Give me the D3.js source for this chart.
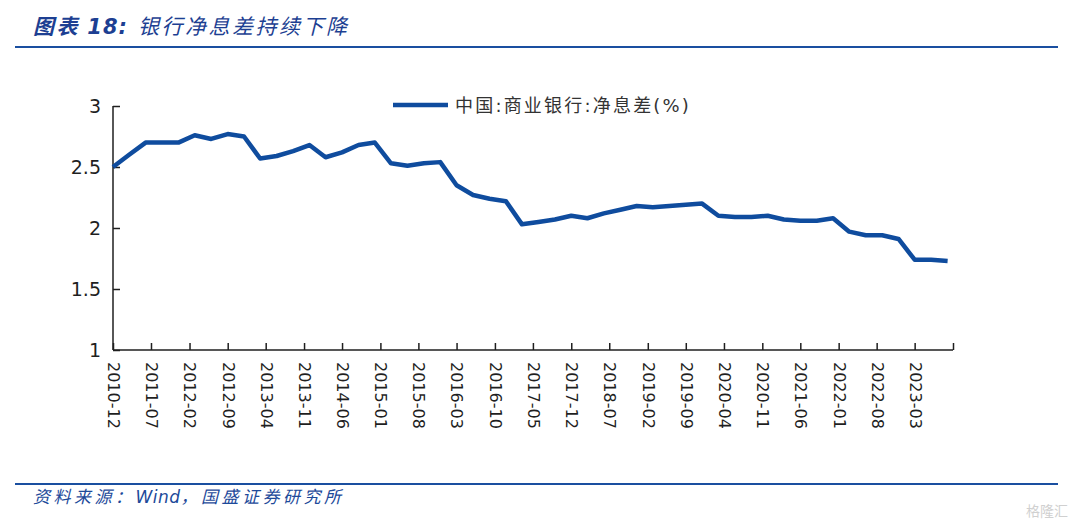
<!DOCTYPE html>
<html>
<head>
<meta charset="utf-8">
<script src="https://cdn.jsdelivr.net/npm/d3@7"></script>
<style>
  body { margin: 0; background: #fff; }
  svg { display: block; }
</style>
</head>
<body>
<svg width="1080" height="524"></svg>
<script>
// quarterly net interest margin of commercial banks (%)
var quarters = [
  "2010-12","2011-03","2011-06","2011-09","2011-12","2012-03","2012-06","2012-09","2012-12",
  "2013-03","2013-06","2013-09","2013-12","2014-03","2014-06","2014-09","2014-12",
  "2015-03","2015-06","2015-09","2015-12","2016-03","2016-06","2016-09","2016-12",
  "2017-03","2017-06","2017-09","2017-12","2018-03","2018-06","2018-09","2018-12",
  "2019-03","2019-06","2019-09","2019-12","2020-03","2020-06","2020-09","2020-12",
  "2021-03","2021-06","2021-09","2021-12","2022-03","2022-06","2022-09","2022-12",
  "2023-03","2023-06","2023-09"
];
var nim = [
  2.50, 2.60, 2.70, 2.70, 2.70, 2.76, 2.73, 2.77, 2.75,
  2.57, 2.59, 2.63, 2.68, 2.58, 2.62, 2.68, 2.70,
  2.53, 2.51, 2.53, 2.54, 2.35, 2.27, 2.24, 2.22,
  2.03, 2.05, 2.07, 2.10, 2.08, 2.12, 2.15, 2.18,
  2.17, 2.18, 2.19, 2.20, 2.10, 2.09, 2.09, 2.10,
  2.07, 2.06, 2.06, 2.08, 1.97, 1.94, 1.94, 1.91,
  1.74, 1.74, 1.73
];
var xTickLabels = [
  "2010-12","2011-07","2012-02","2012-09","2013-04","2013-11","2014-06","2015-01",
  "2015-08","2016-03","2016-10","2017-05","2017-12","2018-07","2019-02","2019-09",
  "2020-04","2020-11","2021-06","2022-01","2022-08","2023-03"
];
var axisEnd = "2023-10";
var yTicks = [1, 1.5, 2, 2.5, 3];
var seriesName = "中国:商业银行:净息差(%)";

var parse = d3.timeParse("%Y-%m");
var svg = d3.select("svg");
var blue = "#0f4c9e";
var dark = "#1f1f1f";

// title + rules
var title = svg.append("text")
    .attr("x", 33).attr("y", 34)
    .attr("fill", "#1d3f92")
    .attr("font-family", "'Noto Sans CJK SC', sans-serif")
    .attr("font-size", 21)
    .attr("font-style", "italic")
    .attr("font-weight", "bold")
    .attr("letter-spacing", 2.5);
title.append("tspan").text("图表 ");
title.append("tspan").attr("font-family", "'DejaVu Sans', sans-serif").attr("letter-spacing", 1).text("18:");
title.append("tspan").attr("dx", 10).attr("font-weight", "normal").text("银行净息差持续下降");

svg.append("line").attr("x1", 15).attr("x2", 1058).attr("y1", 47).attr("y2", 47)
    .attr("stroke", "#1a4fa0").attr("stroke-width", 2);
svg.append("line").attr("x1", 15).attr("x2", 1058).attr("y1", 484).attr("y2", 484)
    .attr("stroke", "#1a4fa0").attr("stroke-width", 2);
var src = svg.append("text")
    .attr("x", 33).attr("y", 503)
    .attr("fill", "#1d4a9a")
    .attr("font-family", "'Noto Sans CJK SC', sans-serif")
    .attr("font-size", 17)
    .attr("font-style", "italic")
    .attr("letter-spacing", 3.5);
src.append("tspan").text("资料来源：");
src.append("tspan").attr("font-family", "'DejaVu Sans', sans-serif").attr("letter-spacing", 0.5).text("Wind");
src.append("tspan").text("，国盛证券研究所");
svg.append("text")
    .attr("x", 1068).attr("y", 516)
    .attr("text-anchor", "end")
    .attr("fill", "#d0d0d0")
    .attr("font-family", "'Noto Sans CJK SC', sans-serif")
    .attr("font-size", 14)
    .text("格隆汇");

var x = d3.scaleTime()
    .domain([parse(quarters[0]), parse(axisEnd)])
    .range([113, 953]);
var y = d3.scaleLinear().domain([1, 3]).range([350, 106]);

// y axis
var yAxis = svg.append("g")
    .attr("transform", "translate(113,0)")
    .call(d3.axisLeft(y).tickValues(yTicks).tickSize(-7)
        .tickFormat(function(d) { return d; }));
yAxis.selectAll("path, line").attr("stroke", dark).attr("stroke-width", 1.5);
yAxis.select(".domain").attr("d", "M0,106V350");
yAxis.selectAll("text")
    .attr("fill", dark)
    .attr("font-family", "'DejaVu Sans', Verdana, sans-serif")
    .attr("font-size", 19)
    .attr("x", -12);

// x axis
var tickDates = xTickLabels.map(parse).concat([parse(axisEnd)]);
var xAxis = svg.append("g")
    .attr("transform", "translate(0,350)")
    .call(d3.axisBottom(x).tickValues(tickDates).tickSize(-7).tickSizeOuter(0)
        .tickFormat(function(d, i) { return i < xTickLabels.length ? xTickLabels[i] : ""; }));
xAxis.selectAll("path, line").attr("stroke", dark).attr("stroke-width", 1.5);
xAxis.select(".domain").attr("d", "M113,0H953");
xAxis.selectAll("text")
    .attr("fill", dark)
    .attr("font-family", "'DejaVu Sans', Verdana, sans-serif")
    .attr("font-size", 16)
    .attr("text-anchor", "start")
    .attr("dy", "0.35em")
    .attr("transform", "rotate(90)")
    .attr("x", 12)
    .attr("y", 0);

// line
var line = d3.line()
    .x(function(d, i) { return x(parse(quarters[i])); })
    .y(function(d) { return y(d); });
svg.append("path")
    .datum(nim)
    .attr("fill", "none")
    .attr("stroke", blue)
    .attr("stroke-width", 4.5)
    .attr("stroke-linejoin", "round")
    .attr("d", line);

// legend
svg.append("line").attr("x1", 393).attr("x2", 448).attr("y1", 105).attr("y2", 105)
    .attr("stroke", blue).attr("stroke-width", 4.5);
svg.append("text")
    .attr("x", 455).attr("y", 112)
    .attr("fill", "#333")
    .attr("font-family", "'DejaVu Sans', 'Noto Sans CJK SC', sans-serif")
    .attr("font-size", 18)
    .attr("letter-spacing", 2.2)
    .text(seriesName);
</script>
</body>
</html>
